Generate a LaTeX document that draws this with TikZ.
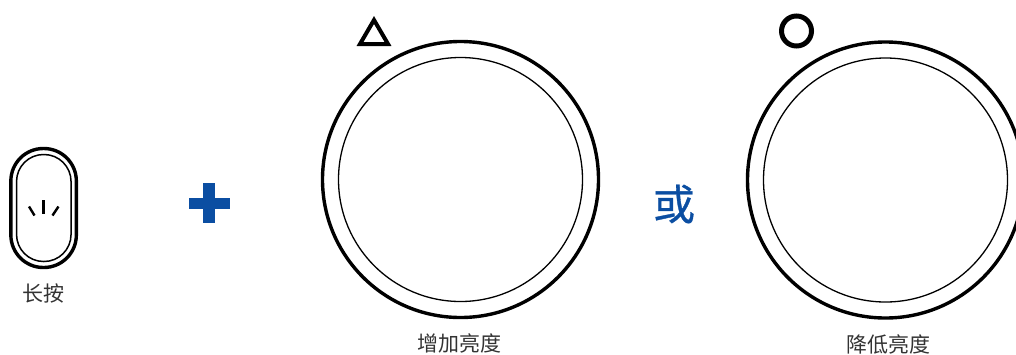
\documentclass[tikz,border=0pt]{standalone}
\usepackage{fontspec}
\setmainfont{Noto Sans CJK SC}
\newfontfamily\ormark[FakeBold=0.8]{Noto Sans CJK SC}
\begin{document}
\begin{tikzpicture}[x=1pt,y=-1pt,
  ringout/.style={draw=black,line width=3.4pt},
  ringin/.style={draw=black,line width=1.5pt},
  dialout/.style={draw=black,line width=3.4pt},
  dialin/.style={draw=black,line width=1.3pt},
  tick/.style={draw=black,line width=2.4pt},
  lab/.style={font=\fontsize{21}{24}\selectfont,text=black!80,inner sep=0pt}]
\definecolor{bluemark}{HTML}{0B4EA2}
\useasboundingbox (0,0) rectangle (1016,354);
\clip (0,0) rectangle (1016,354);
% long-press button
\node[ringout,rounded corners=32.5pt,minimum width=65.5pt,minimum height=119pt,inner sep=0pt] (pillouter) at (43.6,208) {};
\node[ringin,rounded corners=27pt,minimum width=54.5pt,minimum height=107pt,inner sep=0pt] (pillinner) at (43.8,208) {};
\draw[tick] (43.5,200) -- (43.5,214);
\draw[tick] (29,206.5) -- (34.5,215.5);
\draw[tick] (58.5,206.5) -- (52.5,215.5);
\node[lab] (press) at (43,293) {长按};
% plus
\fill[bluemark] (203,182.5) rectangle (215,223);
\fill[bluemark] (188.5,197.5) rectangle (229.5,208.5);
% left dial
\node[dialout,circle,minimum size=276pt,inner sep=0pt] (dialA) at (460.5,179.5) {};
\node[dialin,circle,minimum size=244pt,inner sep=0pt] (dialAin) at (460.5,179.5) {};
\draw[draw=black,line width=4pt,line join=miter] (374,20) -- (388,44) -- (360,44) -- cycle;
\node[lab] (raise) at (459,343) {增加亮度};
% or
\node[text=bluemark,font=\ormark\fontsize{42}{46}\selectfont,inner sep=0pt] (orlabel) at (674,204) {或};
% right dial
\node[dialout,circle,minimum size=276pt,inner sep=0pt] (dialB) at (885.5,180) {};
\node[dialin,circle,minimum size=244pt,inner sep=0pt] (dialBin) at (885.5,180) {};
\node[draw=black,line width=5pt,circle,minimum size=30pt,inner sep=0pt] (ring) at (796.5,31) {};
\node[lab] (lower) at (888,344) {降低亮度};
\end{tikzpicture}
\end{document}
